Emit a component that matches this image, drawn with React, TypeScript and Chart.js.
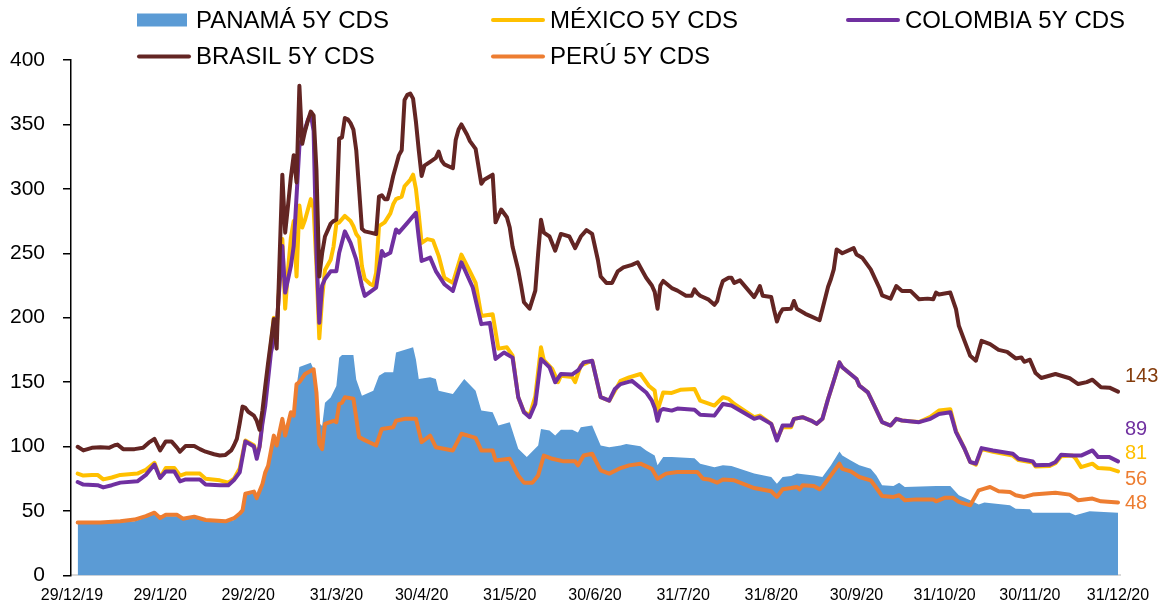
import React, { useEffect, useRef } from "react";
import { Chart, registerables } from "chart.js";

Chart.register(...registerables);

// x values are days since 29/12/19
const TICK_DAYS = [0, 31, 62, 93, 123, 154, 184, 215, 246, 276, 307, 337, 368];
const TICK_LABELS = ["29/12/19", "29/1/20", "29/2/20", "31/3/20", "30/4/20", "31/5/20", "30/6/20", "31/7/20", "31/8/20", "30/9/20", "31/10/20", "30/11/20", "31/12/20"];

const PANAMA: [number, number][] = [
  [2, 40], [10, 40], [17, 41], [22, 42], [26, 45], [29, 47.5], [31, 43.5], [33, 46], [37, 46], [39, 43], [43, 44.5], [47, 42], [54, 41], [57, 43], [59, 47], [60, 49], [61, 62], [64, 64], [65, 60], [67, 72.7], [68, 79], [69, 84], [71, 106], [72, 100], [74, 118], [75, 108], [77, 125], [78, 128], [79, 147], [80, 161.7], [84, 165], [85, 160], [86, 142], [87, 118], [88, 116], [89, 134], [91, 138], [93, 147], [94, 169], [95, 171], [99, 171], [100, 152], [102, 139.5], [106, 143.4], [108, 155], [110, 157.6], [113, 157.6], [114, 173], [116, 174.3], [120, 177], [121, 167.5], [122, 152.4], [126, 153.7], [128, 152.4], [129, 143.4], [134, 140.8], [138, 152.4], [142, 143.4], [144, 127.9], [148, 126.6], [150, 116.3], [154, 118.9], [157, 98.3], [160, 91.8], [164, 100.8], [165, 113.7], [168, 112.4], [170, 108.5], [172, 113], [176, 113], [178, 111], [179, 115], [183, 116.3], [186, 100.8], [189, 99.5], [193, 100.8], [195, 102], [200, 100.3], [202, 97], [205, 93], [206, 85.4], [208, 91.8], [211, 91.8], [219, 91], [221, 86.7], [226, 84], [229, 85.4], [232, 84.9], [240, 79], [246, 76.4], [248, 71.2], [250, 76.4], [253, 77.2], [255, 79], [261, 77.6], [264, 76.4], [267, 85.4], [270, 96.2], [271, 93], [274, 89.2], [277, 85.4], [281, 82.8], [283, 77.6], [285, 69.9], [289, 69.4], [291, 72], [293, 68.6], [304, 69.4], [309, 69.4], [312, 62.2], [316, 58.3], [319, 55], [321, 56.5], [330, 54.4], [332, 51.8], [337, 51.3], [338, 48.7], [351, 48.7], [353, 46.7], [358, 49.8], [368, 48.7],
];

const MEXICO: [number, number][] = [
  [2, 79], [4, 77.5], [7, 78], [9, 78], [11, 74.5], [14, 76], [17, 78], [23, 79], [26, 82], [29, 87.4], [31, 75.7], [33, 83.3], [36, 83.3], [38, 77.5], [40, 79], [45, 79], [47, 75], [52, 73.8], [55, 72], [57, 75], [59, 83], [61, 104.7], [64, 101], [65, 93], [66, 100], [67, 120], [68, 140], [69, 160], [70, 180], [71, 200], [72, 188], [73, 230], [74, 261], [75, 207], [76, 237], [77, 262], [78, 275], [79, 232], [80, 287], [81, 270], [82, 276], [83, 284], [84, 292], [85, 285], [86, 240], [87, 184], [88, 215], [89, 237], [91, 245], [92, 255], [93, 273], [94, 274], [96, 279], [98, 275], [99, 271], [100, 265], [101, 262], [102, 240], [103, 230], [105, 226], [106, 225], [107, 235], [108, 271], [110, 274], [112, 281], [113, 288], [114, 292], [116, 294], [117, 302], [119, 307], [120, 311], [121, 300], [122, 280], [123, 258], [125, 261], [127, 260], [129, 248], [131, 231], [134, 227], [137, 249], [140, 236], [142, 227], [144, 201.4], [148, 202.6], [150, 176], [153, 177], [155, 170.5], [157, 138], [159, 127], [161, 124], [163, 139], [165, 177], [166, 167], [169, 160], [171, 150], [172, 155], [176, 154], [177, 150], [179, 163], [183, 166.6], [186, 138.3], [189, 135.6], [193, 151], [196, 153.7], [200, 156.3], [203, 147], [205, 143.4], [206, 128], [208, 142], [211, 141.6], [214, 144], [219, 144.7], [221, 135.6], [226, 131.8], [229, 138.3], [231, 137], [233, 133], [240, 122.8], [242, 124], [246, 117.6], [248, 106], [250, 115], [253, 115], [254, 121.5], [257, 122.8], [260, 120.2], [262, 117.6], [264, 121.5], [266, 137], [268, 151], [270, 165.3], [271, 161.5], [276, 152.4], [277, 147.3], [280, 142], [282, 133], [285, 118.9], [288, 116.3], [290, 121.5], [292, 120.2], [298, 119], [302, 123], [305, 128], [309, 129], [311, 112], [314, 98.3], [316, 88], [318, 86], [320, 98], [324, 96], [331, 93], [333, 89.5], [338, 87.5], [339, 84.5], [344, 85], [346, 87], [348, 92.5], [352, 93], [353, 91], [355, 84], [359, 86.7], [361, 83.3], [365, 82.8], [368, 80.7],
];

const COLOMBIA: [number, number][] = [
  [2, 72.5], [4, 70.5], [9, 70], [11, 68.3], [14, 70], [17, 72], [23, 73], [26, 78], [29, 86], [31, 75.6], [33, 80.7], [36, 80.7], [38, 73], [40, 74.5], [45, 74.5], [47, 70.5], [52, 70], [55, 70], [57, 74], [59, 80], [61, 104], [64, 100], [65, 90.5], [66, 100], [67, 118], [68, 131.8], [70, 173], [72, 193.7], [74, 255.6], [75, 219.5], [77, 240], [78, 255.6], [80, 333], [81, 339.4], [83, 353.6], [84, 358], [85, 345], [86, 250], [87, 196], [88, 225], [89, 230], [91, 236], [93, 236], [94, 250.4], [96, 267], [98, 258], [100, 245], [102, 224.6], [103, 216.9], [107, 223.4], [109, 251.7], [110, 248], [112, 250.4], [114, 268.5], [115, 266], [118, 273.6], [121, 281.4], [122, 262], [123, 244], [126, 246.6], [128, 236.2], [131, 226], [134, 220.8], [137, 243], [141, 223.4], [144, 195], [147, 196], [149, 168], [152, 173], [155, 169], [157, 138.3], [159, 126.6], [161, 122.8], [163, 133], [165, 168], [168, 161.5], [170, 149.9], [172, 156.3], [176, 156], [178, 159], [180, 165.3], [183, 166.6], [186, 138.3], [189, 135.6], [191, 144.7], [193, 148.5], [197, 151], [202, 142], [204, 135.6], [205, 130], [206, 120], [207, 127.9], [208, 129.2], [211, 127.9], [213, 129.5], [219, 128.5], [221, 124.6], [226, 124], [229, 133], [232, 131.8], [240, 121.5], [242, 122.8], [246, 117.6], [248, 104.7], [250, 116.3], [253, 116.3], [254, 121.5], [257, 122.8], [260, 120.2], [262, 117.6], [264, 121.5], [266, 137], [268, 151], [270, 165.3], [271, 161.5], [276, 152.4], [277, 147.3], [280, 142], [282, 133], [285, 118.9], [288, 116.3], [290, 121.5], [292, 120.2], [298, 118.9], [302, 121.5], [305, 125.3], [309, 126.6], [311, 111.2], [314, 98.3], [316, 88], [318, 86.7], [320, 98.8], [324, 97], [331, 94.4], [333, 90.5], [338, 88.5], [339, 85.4], [344, 85.9], [346, 88], [348, 93.6], [352, 93], [355, 93], [359, 97], [361, 91.8], [365, 91.8], [368, 88.5],
];

const BRASIL: [number, number][] = [
  [2, 99.8], [4, 97], [7, 99], [10, 99.5], [13, 99], [15, 101], [16, 101.5], [18, 98], [22, 98], [25, 99], [27, 103], [29, 106], [31, 97], [33, 104], [35, 104], [37, 99], [38, 96], [40, 100.5], [43, 100.5], [45, 98], [47, 96], [50, 94], [52, 93], [54, 93.5], [56, 97], [57, 101], [58, 106], [59, 118], [60, 131], [61, 130], [62, 127], [64, 124], [65, 120], [66, 113], [67, 128], [68, 147], [69, 165], [70, 182], [71, 199], [72, 176], [74, 311], [75, 266], [76, 287], [77, 309], [78, 326], [79, 305], [80, 380], [81, 335], [82, 345], [83, 353], [84, 360], [85, 357], [86, 315], [87, 232], [88, 250], [89, 263], [90, 268], [91, 273], [92, 275], [93, 276], [94, 339], [95, 340], [96, 355], [97, 354], [98, 351], [99, 346], [100, 330], [101, 300], [102, 269], [103, 267], [105, 266], [107, 265], [108, 294], [109, 295], [110, 292], [111, 292], [112, 300], [113, 310], [114, 318], [115, 326], [116, 330], [117, 369], [118, 373], [119, 374], [120, 370], [121, 352], [122, 330], [123, 310], [124, 318], [126, 321], [128, 324], [129, 329], [130, 322], [131, 319], [134, 316], [135, 338], [136, 346], [137, 350], [139, 342], [140, 337], [142, 331], [144, 304], [145, 307], [148, 311], [149, 274], [151, 284], [153, 278], [154, 270], [155, 255], [157, 237], [158, 225], [159, 212], [161, 207], [163, 221], [164, 250], [165, 276], [166, 266], [168, 263], [170, 252], [172, 265], [175, 263], [177, 254], [179, 263], [181, 268], [183, 265], [185, 245], [186, 232], [188, 227], [190, 227], [192, 236], [194, 239], [197, 241], [199, 243], [200, 239], [202, 231], [204, 225], [205, 220], [206, 207], [207, 225], [208, 228.5], [211, 223], [213, 221], [216, 217], [218, 217], [219, 222], [220, 219], [221, 217], [224, 214], [226, 210], [227, 213], [228, 222], [229, 228.5], [231, 231], [232, 231], [233, 227], [235, 229], [240, 216], [241, 220], [242, 224.6], [243, 217], [246, 216], [247, 206], [248, 197], [249, 203], [250, 206.6], [253, 207], [254, 213], [255, 207], [258, 203], [260, 201], [263, 198], [264, 206.6], [266, 224], [267, 230], [268, 237.5], [269, 253], [271, 250], [275, 254], [276, 249], [278, 246.6], [281, 237.5], [284, 223.4], [285, 217.4], [288, 214.8], [290, 224.6], [292, 220.8], [295, 220.8], [298, 214.3], [301, 214.8], [303, 214.3], [304, 219.5], [305, 218], [309, 219.5], [311, 206.6], [312, 193.7], [314, 182], [316, 170.5], [318, 166.6], [320, 182], [323, 179.5], [326, 175], [329, 173.5], [332, 168.4], [334, 169.2], [335, 165.8], [337, 167.4], [339, 157], [341, 153.2], [346, 156.3], [351, 153], [354, 148.5], [357, 150], [359, 151.9], [362, 146], [365, 145.7], [368, 142.6],
];

const PERU: [number, number][] = [
  [2, 41], [10, 41], [17, 42], [22, 43.3], [26, 46], [29, 48.7], [31, 44.5], [33, 47], [37, 47], [39, 44], [43, 45.6], [47, 43], [54, 42], [57, 44.4], [59, 48], [60, 50.5], [61, 63.4], [64, 65], [65, 60], [67, 71], [68, 80], [69, 85], [71, 108.5], [72, 100.8], [74, 121.5], [75, 108.5], [77, 126.6], [78, 124], [79, 148.5], [80, 150], [82, 156.3], [85, 160], [86, 142], [87, 102], [88, 98], [89, 117.6], [92, 120], [93, 119], [94, 133], [95, 134], [96, 138.2], [99, 137.2], [101, 107.3], [103, 105], [107, 100.8], [109, 113.7], [113, 115], [114, 120], [117, 121.5], [121, 121.5], [123, 103.4], [126, 108.5], [128, 99.5], [134, 97], [137, 109.9], [142, 106.7], [144, 97], [148, 97], [149, 89.2], [154, 90.5], [157, 77.6], [159, 72], [162, 72], [164, 77.6], [166, 93], [169, 90.5], [173, 88.5], [177, 88.5], [178, 85.4], [180, 93], [183, 94.4], [186, 81.5], [189, 79], [193, 83.3], [196, 85.4], [200, 86.7], [204, 82.7], [206, 75], [209, 79], [213, 80.2], [220, 80.2], [222, 75], [224, 74.5], [227, 72], [229, 74.5], [233, 73.8], [240, 67.8], [246, 65.3], [248, 60.9], [250, 66.8], [253, 67.8], [255, 68.6], [256, 66.8], [257, 69.9], [261, 69.4], [263, 66.8], [264, 68.6], [267, 77.6], [270, 86.7], [271, 82.7], [274, 80.7], [277, 76.4], [281, 73.8], [283, 67.8], [285, 61.6], [289, 60.9], [291, 62.2], [293, 58.3], [297, 59], [303, 59], [304, 57.5], [307, 60.2], [310, 60.2], [312, 57], [316, 54.4], [317, 58.3], [319, 66], [321, 67.3], [323, 68.6], [326, 65.3], [330, 64.7], [332, 62.2], [335, 60.9], [338, 62.7], [346, 64.2], [351, 62.7], [354, 58.3], [359, 59.6], [362, 57.5], [368, 56.5],
];

const LEGEND_NAMES = ["PANAMÁ 5Y CDS", "MÉXICO 5Y CDS", "COLOMBIA 5Y CDS", "BRASIL 5Y CDS", "PERÚ 5Y CDS"];
const END_LABELS = ["143", "89", "81", "56", "48"];

// styling
const COLORS = {
  panama: "#5B9BD5",
  mexico: "#FFC000",
  colombia: "#7030A0",
  brasil: "#632523",
  peru: "#ED7D31",
};
const FONT = '"Liberation Sans", Arial, sans-serif';
const LEGEND_LAYOUT = [
  { x: 137, y: 20, color: COLORS.panama, box: true },
  { x: 491, y: 20, color: COLORS.mexico, box: false },
  { x: 846, y: 20, color: COLORS.colombia, box: false },
  { x: 137, y: 56.5, color: COLORS.brasil, box: false },
  { x: 491, y: 56.5, color: COLORS.peru, box: false },
];
// label anchors (in axis value units) and colors for the end-of-line value labels
const END_LABEL_STYLE = [
  { at: 154.4, color: "#843C0C" },
  { at: 113.1, color: COLORS.colombia },
  { at: 94.4, color: COLORS.mexico },
  { at: 74.4, color: COLORS.peru },
  { at: 56.1, color: COLORS.peru },
];

const toXY = (arr: [number, number][]) => arr.map(([x, y]) => ({ x, y }));

const overlayPlugin = {
  id: "overlay",
  afterDraw(chart: any) {
    const ctx = chart.ctx as CanvasRenderingContext2D;
    ctx.save();
    ctx.textBaseline = "middle";
    ctx.textAlign = "left";
    ctx.font = `24px ${FONT}`;
    LEGEND_NAMES.forEach((name, i) => {
      const l = LEGEND_LAYOUT[i];
      if (l.box) {
        ctx.fillStyle = l.color;
        ctx.fillRect(l.x, l.y - 6.5, 50, 13);
      } else {
        ctx.strokeStyle = l.color;
        ctx.lineWidth = 4;
        ctx.lineCap = "round";
        ctx.beginPath();
        ctx.moveTo(l.x + 2, l.y);
        ctx.lineTo(l.x + 52, l.y);
        ctx.stroke();
      }
      ctx.fillStyle = "#000";
      ctx.fillText(name, l.x + 59, l.y + 1);
    });
    const yScale = chart.scales.y;
    ctx.font = `20px ${FONT}`;
    END_LABELS.forEach((t, i) => {
      const s = END_LABEL_STYLE[i];
      ctx.fillStyle = s.color;
      ctx.fillText(t, 1125, yScale.getPixelForValue(s.at));
    });
    ctx.restore();
  },
};

export default function App() {
  const ref = useRef<HTMLCanvasElement | null>(null);
  useEffect(() => {
    if (!ref.current) return;
    const lineDs = (label: string, data: [number, number][], color: string, order: number) => ({
      label,
      data: toXY(data),
      borderColor: color,
      backgroundColor: color,
      borderWidth: 4,
      pointRadius: 0,
      tension: 0,
      fill: false,
      borderJoinStyle: "round" as const,
      borderCapStyle: "round" as const,
      order,
    });
    const chart = new Chart(ref.current, {
      type: "line",
      data: {
        datasets: [
          {
            label: LEGEND_NAMES[0],
            data: toXY(PANAMA),
            borderWidth: 0,
            borderColor: COLORS.panama,
            backgroundColor: COLORS.panama,
            pointRadius: 0,
            fill: "origin",
            order: 5,
          },
          lineDs(LEGEND_NAMES[1], MEXICO, COLORS.mexico, 3),
          lineDs(LEGEND_NAMES[2], COLOMBIA, COLORS.colombia, 2),
          lineDs(LEGEND_NAMES[3], BRASIL, COLORS.brasil, 1),
          lineDs(LEGEND_NAMES[4], PERU, COLORS.peru, 4),
        ],
      },
      options: {
        animation: false,
        responsive: true,
        maintainAspectRatio: false,
        layout: { padding: { top: 60, left: 0, right: 45, bottom: 0 } },
        plugins: {
          legend: { display: false },
          tooltip: { enabled: false },
        },
        scales: {
          x: {
            type: "linear",
            min: -0.35,
            max: 368.7,
            grid: { display: false, drawTicks: false },
            border: { display: true, color: "#D9D9D9", width: 2 },
            afterBuildTicks: (scale: any) => {
              scale.ticks = TICK_DAYS.map((v) => ({ value: v }));
            },
            afterFit: (scale: any) => {
              scale.height = 29;
            },
            ticks: {
              autoSkip: false,
              maxRotation: 0,
              minRotation: 0,
              padding: 11,
              color: "#000",
              font: { family: FONT, size: 16 },
              callback: (value: any) => {
                const i = TICK_DAYS.indexOf(Number(value));
                return i >= 0 ? TICK_LABELS[i] : "";
              },
            },
          },
          y: {
            type: "linear",
            min: 0,
            max: 400,
            grid: { display: true, drawOnChartArea: false, drawTicks: true, tickLength: 8, color: "#000", lineWidth: 1.5 },
            border: { display: true, color: "#000", width: 1.5 },
            afterFit: (scale: any) => {
              scale.width = 71;
            },
            ticks: {
              stepSize: 50,
              padding: 18,
              color: "#000",
              font: { family: FONT, size: 21 },
            },
          },
        },
      },
      plugins: [overlayPlugin],
    });
    return () => chart.destroy();
  }, []);
  return (
    <div style={{ position: "fixed", left: 0, top: 0, width: 1165, height: 606, background: "#fff" }}>
      <canvas ref={ref} />
    </div>
  );
}
